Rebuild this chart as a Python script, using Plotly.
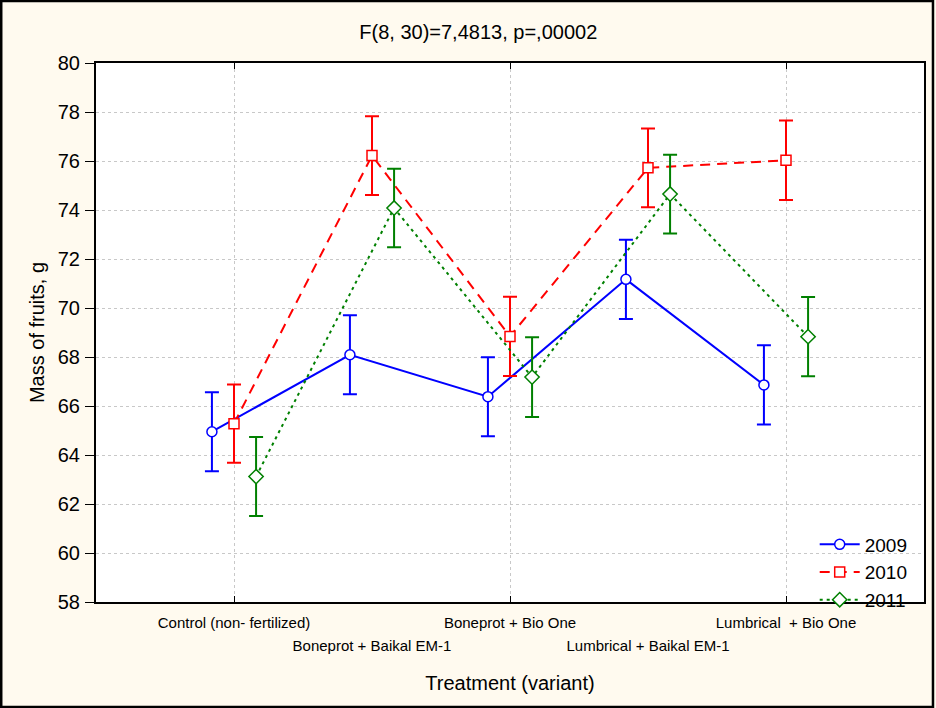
import numpy as np
import plotly.graph_objects as go

categories = ["Control (non- fertilized)", "Boneprot + Baikal EM-1", "Boneprot + Bio One",
              "Lumbrical + Baikal EM-1", "Lumbrical  + Bio One"]
years = ["2009", "2010", "2011"]
mean_2009 = [64.95, 68.09, 66.38, 71.17, 66.86]
err_2009 = [1.61, 1.61, 1.61, 1.62, 1.62]
mean_2010 = [65.28, 76.22, 68.84, 75.72, 76.03]
err_2010 = [1.60, 1.61, 1.62, 1.61, 1.62]
mean_2011 = [63.12, 74.08, 67.18, 74.65, 68.83]
err_2011 = [1.61, 1.60, 1.63, 1.61, 1.62]
y_ticks = [58, 60, 62, 64, 66, 68, 70, 72, 74, 76, 78, 80]

FONT = "Liberation Sans, Arial, sans-serif"
BG = "#FFFAEF"

pos = np.arange(1, len(categories) + 1)
series = [
    (years[0], mean_2009, err_2009, -0.16, "#0000FF", "solid", "circle"),
    (years[1], mean_2010, err_2010, 0.0, "#FF0000", "10px,7px", "square"),
    (years[2], mean_2011, err_2011, 0.16, "#008000", "3px,4px", "diamond"),
]

fig = go.Figure()
for name, m, e, off, col, dash, sym in series:
    fig.add_trace(go.Scatter(
        x=pos + off, y=m, name=name, mode="lines+markers",
        line=dict(color=col, width=2, dash=dash),
        marker=dict(symbol=sym, size=10 if sym != "diamond" else 11, color="white",
                    line=dict(color=col, width=1.5)),
        error_y=dict(type="data", array=e, visible=True, color=col, thickness=2, width=7),
    ))

fig.update_layout(
    width=936, height=708,
    margin=dict(l=96, r=10, t=63, b=106),
    paper_bgcolor=BG, plot_bgcolor="white",
    font=dict(family=FONT, color="black"),
    title=dict(text="F(8, 30)=7,4813, p=,00002", x=0.511, xanchor="center",
               y=1 - 32 / 708, yanchor="middle", font=dict(size=20)),
    showlegend=True,
    legend=dict(x=0.868, xanchor="left", y=0.142, yanchor="top",
                bgcolor="rgba(0,0,0,0)", font=dict(size=19), tracegroupgap=0,
                itemwidth=40),
    xaxis=dict(range=[0, 6], tickmode="array", tickvals=pos[0::2].tolist(),
               ticktext=categories[0::2], tickfont=dict(size=15),
               ticks="inside", ticklen=6, tickcolor="black",
               showline=True, linecolor="black", linewidth=2, mirror="ticks",
               showgrid=True, gridcolor="#C8C8C8", griddash="dot", gridwidth=1,
               zeroline=False, ticklabelstandoff=6),
    xaxis2=dict(range=[0, 6], overlaying="x", side="bottom", anchor="y",
                tickmode="array", tickvals=pos[1::2].tolist(), ticktext=categories[1::2],
                tickfont=dict(size=15), ticks="", showline=False, showgrid=False,
                zeroline=False, ticklabelstandoff=33,
                title=dict(text="Treatment (variant)", font=dict(size=20), standoff=22)),
    yaxis=dict(range=[58, 80], tickmode="array", tickvals=y_ticks,
               ticks="outside", ticklen=9, tickcolor="black", tickfont=dict(size=20),
               showline=True, linecolor="black", linewidth=2, mirror=True,
               showgrid=True, gridcolor="#C8C8C8", griddash="dot", gridwidth=1,
               zeroline=False, ticklabelstandoff=1,
               title=dict(text="Mass of fruits, g", font=dict(size=20), standoff=8)),
)
# dummy invisible trace so xaxis2 is rendered
fig.add_trace(go.Scatter(x=[None], y=[None], xaxis="x2", showlegend=False, hoverinfo="skip"))

# outer frame of the whole picture
fig.add_shape(type="rect", xref="paper", yref="paper",
              x0=(1 - 96) / 830, x1=(935 - 96) / 830,
              y0=(602 - 707) / 539, y1=(602 - 1) / 539,
              line=dict(color="black", width=2.5), fillcolor="rgba(0,0,0,0)", layer="above")

fig.write_html("out.html")
